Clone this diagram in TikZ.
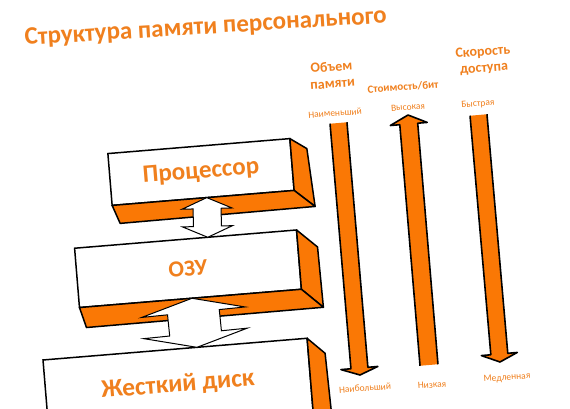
\documentclass[tikz,border=0pt]{standalone}
\usepackage{fontspec}
\setmainfont{Carlito}
\usetikzlibrary{calc}
\definecolor{orfill}{RGB}{250,120,5}
\definecolor{ortext}{RGB}{240,128,30}
\tikzset{
 box/.style={draw=black, line width=1.5pt, fill=white, rotate=4.7, outer sep=0pt, inner sep=0pt, text=ortext},
 side/.style={draw=black, line width=1.5pt, fill=orfill, line join=round},
 link/.style={draw=black, line width=1pt, fill=white, line join=miter},
 vline/.style={draw=black, line width=1.6pt, line join=round},
 head/.style={text=ortext, font=\bfseries\fontsize{14}{16.5}\selectfont, align=center, rotate=4, inner sep=0pt},
 head2/.style={text=ortext, font=\bfseries\fontsize{11}{12}\selectfont, rotate=4, inner sep=0pt},
 sub/.style={text=ortext, font=\fontsize{9.5}{10}\selectfont, rotate=4, inner sep=0pt},
 title/.style={text=ortext, font=\bfseries\fontsize{25}{27}\selectfont, rotate=3.5, inner sep=0pt},
}
\newcommand\dblarrow[5]{%
 \draw[link] (#1) -- ($(#1)!#5!(#2)!#4!90:(#2)$) -- ($(#1)!#5!(#2)!#3!90:(#2)$)
  -- ($(#2)!#5!(#1)!#3!-90:(#1)$) -- ($(#2)!#5!(#1)!#4!-90:(#1)$) -- (#2)
  -- ($(#2)!#5!(#1)!#4!90:(#1)$) -- ($(#2)!#5!(#1)!#3!90:(#1)$)
  -- ($(#1)!#5!(#2)!#3!-90:(#2)$) -- ($(#1)!#5!(#2)!#4!-90:(#2)$) -- cycle;}
\newcommand\varrow[5]{%
 \fill[orfill] ($(#1)!#3!90:(#2)$) -- ($(#2)!#5!(#1)!#3!-90:(#1)$) -- ($(#2)!#5!(#1)!#4!-90:(#1)$)
  -- (#2) -- ($(#2)!#5!(#1)!#4!90:(#1)$) -- ($(#2)!#5!(#1)!#3!90:(#1)$) -- ($(#1)!#3!-90:(#2)$) -- cycle;
 \draw[vline] ($(#1)!#3!90:(#2)$) -- ($(#2)!#5!(#1)!#3!-90:(#1)$) -- ($(#2)!#5!(#1)!#4!-90:(#1)$)
  -- (#2) -- ($(#2)!#5!(#1)!#4!90:(#1)$) -- ($(#2)!#5!(#1)!#3!90:(#1)$) -- ($(#1)!#3!-90:(#2)$);}
\begin{document}
\begin{tikzpicture}[x=1pt,y=-1pt]
\useasboundingbox (0,0) rectangle (570,409);
\clip (0,0) rectangle (570,409);
\fill[white] (0,0) rectangle (570,409);

% title
\node[title, anchor=base west] (ttl) at (25,45) {Структура памяти персонального};

% boxes
\node[box, minimum width=182.6pt, minimum height=52pt, font=\bfseries\fontsize{25}{27}\selectfont] (cpu) at (201,172) {Процессор};
\draw[side] (cpu.north east) -- ++(17,10) -- ($(cpu.south east)+(21,16)$) -- (cpu.south east) -- cycle;
\draw[side] (cpu.south west) -- ($(cpu.south west)+(8,18)$) -- ($(cpu.south east)+(21,16)$) -- (cpu.south east) -- cycle;

\node[box, minimum width=222.7pt, minimum height=59.5pt, font=\bfseries\fontsize{23}{25}\selectfont] (ozu) at (188,268.75) {ОЗУ};
\draw[side] (ozu.north east) -- ++(21,17) -- ($(ozu.south east)+(22,18)$) -- (ozu.south east) -- cycle;
\draw[side] (ozu.south west) -- ($(ozu.south west)+(7,20)$) -- ($(ozu.south east)+(22,18)$) -- (ozu.south east) -- cycle;

\node[box, minimum width=265pt, minimum height=72pt, font=\bfseries\fontsize{25.5}{27}\selectfont] (disk) at (178,385) {\raisebox{3pt}{Жесткий диск}};
\draw[side] (disk.north east) -- ++(18,15) -- ($(disk.south east)+(20,17)$) -- (disk.south east) -- cycle;

% links between boxes
\coordinate (a1) at ($(cpu.south west)!0.52!(cpu.south east)$);
\coordinate (a2) at ($(ozu.north west)!0.6!(ozu.north east)$);
\dblarrow{a1}{a2}{14pt}{25pt}{11pt}
\coordinate (b1) at ($(ozu.south west)!0.507!(ozu.south east)$);
\coordinate (b2) at ($(disk.north west)!0.583!(disk.north east)$);
\dblarrow{b1}{b2}{26pt}{52pt}{14pt}

% vertical arrows
\coordinate (t1) at (338.5,123); \coordinate (h1) at (360,375);
\coordinate (t2) at (429,365);   \coordinate (h2) at (408,115);
\coordinate (t3) at (478.5,115); \coordinate (h3) at (500,362);
\varrow{t1}{h1}{8.5pt}{18.5pt}{7pt}
\varrow{t2}{h2}{9pt}{18.5pt}{9pt}
\varrow{t3}{h3}{8.5pt}{18pt}{8pt}

% labels
\node[head] (l1) at (332,75) {Объем\\памяти};
\node[head2] (l2) at (403,87) {Стоимость/бит};
\node[head] (l3) at (483.5,60.5) {Скорость\\доступа};
\node[sub] (s1) at (335,113) {Наименьший};
\node[sub] (s2) at (408,107) {Высокая};
\node[sub] (s3) at (478,104) {Быстрая};
\node[sub] (e1) at (365,388) {Наибольший};
\node[sub] (e2) at (432,385) {Низкая};
\node[sub] (e3) at (507,378) {Медленная};
\end{tikzpicture}
\end{document}
